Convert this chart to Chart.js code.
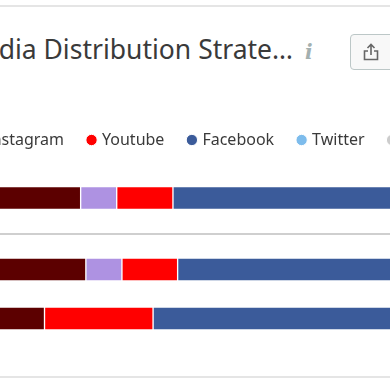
<!DOCTYPE html>
<html>
<head>
<meta charset="utf-8">
<script src="https://cdn.jsdelivr.net/npm/chart.js@4"></script>
<style>
  html, body { margin: 0; padding: 0; background: #fff; }
  body { position: relative; width: 390px; height: 383px; overflow: hidden; font-family: "Noto Sans", sans-serif; }
  .rule { position: absolute; left: 0; width: 390px; height: 2px; }
  #title { position: absolute; right: 97px; top: 31px; font-size: 26.5px; line-height: 36px; color: #3a3a3a; white-space: nowrap; }
  #info { position: absolute; left: 305px; top: 40px; font: italic bold 20px/24px "DejaVu Serif", serif; color: #a3b0b0; }
  #share { position: absolute; left: 350px; top: 34px; width: 60px; height: 34px; border: 1px solid #bcc7c7; border-radius: 4px; background: #f8f8f8; }
  #share svg { position: absolute; left: 12px; top: 8px; }
  canvas { position: absolute; }
  #wrapTop { position: absolute; left: -157px; top: 107px; width: 757px; height: 131px; }
  #wrapRows { position: absolute; left: -50px; top: 245px; width: 650px; height: 98px; }
</style>
</head>
<body>
<div class="rule" style="top:5px;background:#e5e5e5"></div>
<div class="rule" style="top:233px;background:#cfcfcf"></div>
<div class="rule" style="top:376px;background:#e5e5e5"></div>
<div id="title">Social Media Distribution Strate…</div>
<div id="info">i</div>
<div id="share">
  <svg width="16" height="18" viewBox="0 0 16 18" fill="none" stroke="#666" stroke-width="1.6">
    <path d="M8 12V2M4.5 5L8 1.5L11.5 5"/>
    <path d="M5 8H1.5V16.5H14.5V8H11"/>
  </svg>
</div>
<div id="wrapTop"><canvas id="chartTop"></canvas></div>
<div id="wrapRows"><canvas id="chartRows"></canvas></div>

<script>
const labels = ['Pinterest', 'Instagram', 'Youtube', 'Facebook', 'Twitter', 'Other'];
const colors = ['#5c0000', '#ae92e2', '#ff0000', '#3b5b9a', '#7dbcec', '#cccccc'];

// share of each network, one row per category
const overall = [20.1, 5.55, 8.65, 56, 6, 3.7];
const rowCategories = ['Group A', 'Group B'];
const pinterest = [20.9, 14.54];
const instagram = [5.55, 0];
const youtube = [8.57, 16.7];
const facebook = [55, 62];
const twitter = [6, 4];
const other = [3.98, 2.76];

const rowSeries = [pinterest, instagram, youtube, facebook, twitter, other];

function baseOptions(xMin) {
  return {
    indexAxis: 'y',
    responsive: true,
    maintainAspectRatio: false,
    animation: false,
    layout: { padding: 0 },
    scales: {
      x: { stacked: true, min: xMin, max: 100, display: false },
      y: { stacked: true, display: false }
    },
    plugins: { legend: { display: false }, tooltip: { enabled: false } }
  };
}

function makeDatasets(seriesFor) {
  return labels.map((label, i) => ({
    label: label,
    data: seriesFor(i),
    backgroundColor: colors[i],
    borderColor: '#ffffff',
    borderWidth: 1,
    borderSkipped: false,
    barThickness: 23
  }));
}

// the top chart starts further left so its legend row lines up, bars stay put
const topOptions = baseOptions(-16.46);
topOptions.plugins.legend = {
  display: true,
  position: 'top',
  align: 'start',
  labels: {
    usePointStyle: true,
    pointStyle: 'circle',
    boxWidth: 5,
    boxHeight: 8,
    padding: 25,
    color: '#3a3a3a',
    font: { family: 'Noto Sans', size: 16 }
  }
};

new Chart(document.getElementById('chartTop'), {
  type: 'bar',
  data: { labels: ['All'], datasets: makeDatasets(i => [overall[i]]) },
  options: topOptions
});

new Chart(document.getElementById('chartRows'), {
  type: 'bar',
  data: { labels: rowCategories, datasets: makeDatasets(i => rowSeries[i]) },
  options: baseOptions(0)
});
</script>
</body>
</html>
